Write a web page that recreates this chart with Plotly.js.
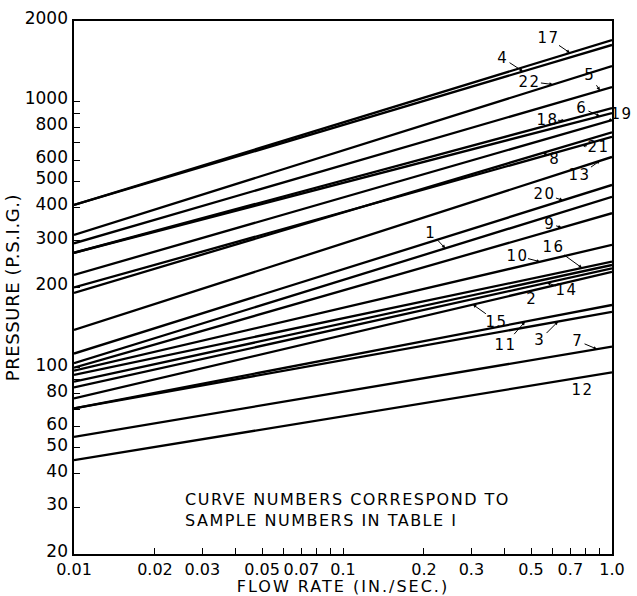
<!DOCTYPE html>
<html><head><meta charset="utf-8">
<script src="https://cdn.plot.ly/plotly-3.0.1.min.js"></script>
<style>
html,body{margin:0;padding:0;background:#fff;}
#chart{width:637px;height:596px;}
#chart .annotation-text {letter-spacing:1.5px;}
#chart .xtitle {letter-spacing:2px;}
#chart .ytitle {letter-spacing:0.6px;}
</style></head><body><div id="chart"></div>
<script>
// Flow-rate end points of every straight log-log curve
const flowRates = [0.01, 1.0];
// Curve (sample) numbers, ordered top to bottom at the left edge
const curveNumbers = ['17','4','22','5','18','6','19','21','8','13','20','1','9','10','16','2','14','15','11','3','7','12'];
// Pressure (p.s.i.g.) at flow rate 0.01 in./sec.
const pressureAtLowFlow = [408,408,315,293,270,270,223,200,191,138.5,113,104,100,97.5,94,88.6,84.4,76.7,70.4,70.4,55,45];
// Pressure (p.s.i.g.) at flow rate 1.0 in./sec.
const pressureAtHighFlow = [1697,1626,1356,1131,943,903,850,735,765,618,485,438,380,289,250,243,236,229,172,162,120,96];

const xTickValues = [0.01,0.02,0.03,0.04,0.05,0.06,0.07,0.08,0.09,0.1,0.2,0.3,0.4,0.5,0.6,0.7,0.8,0.9,1.0];
const xTickLabels = ['0.01','0.02','0.03','','0.05','','0.07','','','0.1','0.2','0.3','','0.5','','0.7','','','1.0'];
const yTickValues = [20,30,40,50,60,70,80,90,100,200,300,400,500,600,700,800,900,1000,2000];
const yTickLabels = ['20','30','40','50','60','','80','','100','200','300','400','500','600','','800','','1000','2000'];

const noteText = 'CURVE NUMBERS CORRESPOND TO<br>SAMPLE NUMBERS IN TABLE I';

const traces = curveNumbers.map((n, i) => ({
  type: 'scatter', mode: 'lines',
  x: flowRates, y: [pressureAtLowFlow[i], pressureAtHighFlow[i]],
  name: 'Curve ' + n,
  line: {color: '#000', width: 2.3},
  showlegend: false, hoverinfo: 'skip'
}));

// pressure on curve i at flow x (on the straight log-log line through its two end points)
function pressureOn(i, x) {
  const a = Math.log10(pressureAtLowFlow[i]), b = Math.log10(pressureAtHighFlow[i]);
  const l0 = Math.log10(flowRates[0]), l1 = Math.log10(flowRates[1]);
  const t = (Math.log10(x) - l0) / (l1 - l0);
  return Math.pow(10, a + (b - a) * t);
}

// label placement: flow position of arrow tip on its curve, text offset in px
const labelPlacement = {
  '17': {x: 0.698, ax: -22, ay: -15},
  '4':  {x: 0.467, ax: -20, ay: -13},
  '22': {x: 0.603, ax: -23, ay: -3},
  '5':  {x: 0.902, ax: -10, ay: -15},
  '18': {x: 0.669, ax: -18, ay: -1},
  '6':  {x: 0.902, ax: -18, ay: -8},
  '19': {x: 0.966, ax: 14, ay: -7},
  '21': {x: 0.774, ax: 16, ay: 2},
  '8':  {x: 0.554, ax: 12, ay: 6},
  '13': {x: 0.902, ax: -20, ay: 14},
  '20': {x: 0.657, ax: -18, ay: -6},
  '1':  {x: 0.240, ax: -14, ay: -15},
  '9':  {x: 0.650, ax: -12, ay: -4},
  '10': {x: 0.540, ax: -23, ay: -6},
  '16': {x: 0.774, ax: -29, ay: -21},
  '2':  {x: 0.436, ax: 17, ay: 13},
  '14': {x: 0.573, ax: 20, ay: 7},
  '15': {x: 0.304, ax: 24, ay: 17},
  '11': {x: 0.475, ax: -20, ay: 23},
  '3':  {x: 0.630, ax: -18, ay: 18},
  '7':  {x: 0.880, ax: -19, ay: -8},
  '12': {x: 0.780, noArrow: true, yshift: -13}
};

const annotations = curveNumbers.map((n, i) => {
  const p = labelPlacement[n];
  const a = {
    x: Math.log10(p.x), y: Math.log10(pressureOn(i, p.x)), xref: 'x', yref: 'y',
    text: n, font: {family: 'DejaVu Sans, sans-serif', size: 15, color: '#000'}
  };
  if (p.noArrow) { a.showarrow = false; a.yshift = p.yshift; }
  else {
    a.showarrow = true; a.ax = p.ax; a.ay = p.ay;
    a.arrowhead = 2; a.arrowsize = 0.7; a.arrowwidth = 1; a.arrowcolor = '#000';
    a.standoff = 0;
  }
  return a;
});

annotations.push({
  xref: 'paper', yref: 'paper', x: 0.2026, y: 0.083, xanchor: 'left', yanchor: 'middle',
  align: 'left', showarrow: false, text: noteText,
  font: {family: 'DejaVu Sans, sans-serif', size: 16, color: '#000'}
});

const axisCommon = {
  type: 'log', tickmode: 'array', ticks: 'inside', ticklen: 6, tickwidth: 1, tickcolor: '#000',
  showline: true, linecolor: '#000', linewidth: 1.6, mirror: true,
  showgrid: false, zeroline: false, automargin: false, tickangle: 0
};

const layout = {
  width: 637, height: 596,
  margin: {l: 74, r: 25, t: 21, b: 42},
  paper_bgcolor: '#fff', plot_bgcolor: '#fff',
  font: {family: 'DejaVu Sans, sans-serif', color: '#000', size: 16},
  xaxis: Object.assign({}, axisCommon, {
    range: [-2, 0], tickvals: xTickValues, ticktext: xTickLabels,
    tickfont: {family: 'DejaVu Sans, sans-serif', size: 16, color: '#000'},
    title: {text: 'FLOW RATE (IN./SEC.)', font: {size: 16}}
  }),
  yaxis: Object.assign({}, axisCommon, {
    range: [Math.log10(20), Math.log10(2000)], tickvals: yTickValues, ticktext: yTickLabels,
    ticklabelstandoff: 1, ticklabelshift: -3,
    tickfont: {family: 'DejaVu Sans, sans-serif', size: 17, color: '#000'},
    title: {text: 'PRESSURE (P.S.I.G.)', font: {size: 18}, standoff: 0}
  }),
  annotations: annotations
};

Plotly.newPlot('chart', traces, layout, {displayModeBar: false, staticPlot: true});
</script></body></html>
